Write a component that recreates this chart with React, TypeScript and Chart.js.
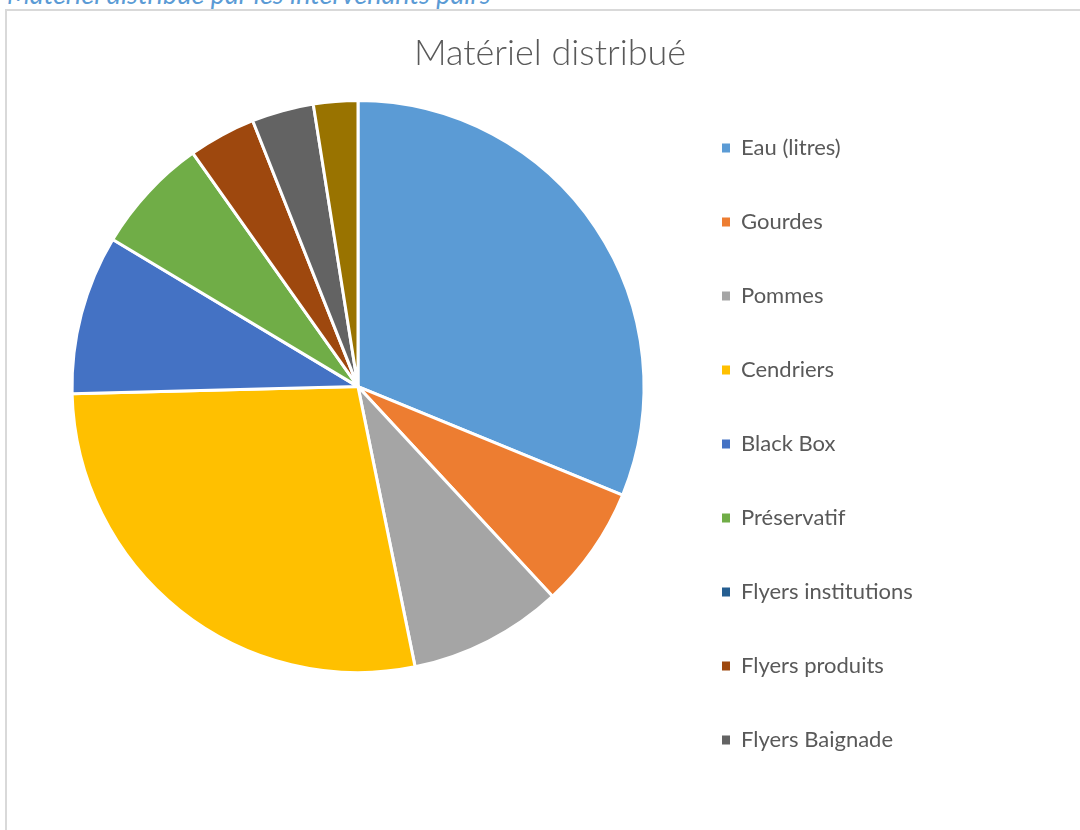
import React, { useEffect, useRef } from 'react';
import { Chart, registerables, layouts } from 'chart.js';

Chart.register(...registerables);

// ---- Data ----
const chartTitle = 'Matériel distribué';
const caption = 'Matériel distribué par les intervenants pairs';
const categories = [
  'Eau (litres)',
  'Gourdes',
  'Pommes',
  'Cendriers',
  'Black Box',
  'Préservatif',
  'Flyers institutions',
  'Flyers produits',
  'Flyers Baignade',
  'Autres',
];
const values = [312, 69, 87, 278, 90, 66, 0, 38, 35, 25];
const sliceColors = [
  '#5B9BD5',
  '#ED7D31',
  '#A5A5A5',
  '#FFC000',
  '#4472C4',
  '#70AD47',
  '#255E91',
  '#9E480E',
  '#636363',
  '#997300',
];
const legendCount = 9; // the legend of the original only shows the first nine entries

// ---- Layout constants ----
const CANVAS_W = 1054;
const CANVAS_H = 888;
const RIGHT_BLOCK = 384; // legend + empty area on the right of the plot
const BOTTOM_SPACE = 190;
const TEXT_COLOR = '#595959';

// invisible layout boxes that reserve empty room, like the Excel plot area
const layoutSpacers = {
  id: 'layoutSpacers',
  beforeInit(chart: any) {
    const make = (position: string, sizeFn: () => number) => ({
      position,
      weight: 3000,
      fullSize: false,
      options: { display: false },
      left: 0,
      top: 0,
      right: 0,
      bottom: 0,
      width: 0,
      height: 0,
      isHorizontal() {
        return position === 'top' || position === 'bottom';
      },
      update(maxWidth: number, maxHeight: number) {
        const s = sizeFn();
        if (this.isHorizontal()) {
          this.width = maxWidth;
          this.height = s;
        } else {
          this.width = s;
          this.height = maxHeight;
        }
      },
      draw() {},
    });
    layouts.addBox(chart, make('right', () => Math.max(0, RIGHT_BLOCK - (chart.legend ? chart.legend.width : 0))) as any);
    layouts.addBox(chart, make('bottom', () => BOTTOM_SPACE) as any);
  },
};

export default function App() {
  const canvasRef = useRef<HTMLCanvasElement | null>(null);

  useEffect(() => {
    if (!canvasRef.current) return;
    const chart = new Chart(canvasRef.current, {
      type: 'pie',
      data: {
        labels: categories,
        datasets: [
          {
            data: values,
            backgroundColor: sliceColors,
            borderColor: '#FFFFFF',
            borderWidth: 3,
            hoverOffset: 0,
            radius: 286,
          } as any,
        ],
      },
      plugins: [layoutSpacers as any],
      options: {
        responsive: false,
        animation: false,
        events: [],
        layout: { padding: { left: 46, right: 0, top: 0, bottom: 0 } },
        plugins: {
          title: {
            display: true,
            text: chartTitle,
            color: TEXT_COLOR,
            font: { family: 'Lato', size: 36, weight: '300' as any },
            padding: { top: 32, bottom: 0 },
          },
          legend: {
            display: true,
            position: 'right',
            fullSize: true,
            align: 'center',
            labels: {
              boxWidth: 8,
              boxHeight: 9,
              padding: 52,
              color: TEXT_COLOR,
              font: { family: 'Lato', size: 22 },
              generateLabels: (c: any) =>
                (Chart as any).overrides.doughnut.plugins.legend.labels
                  .generateLabels(c)
                  .map((l: any) => ({ ...l, lineWidth: 0 })),
              filter: (item: any) => item.index < legendCount,
            },
          },
          tooltip: { enabled: false },
        },
      },
    });
    return () => chart.destroy();
  }, []);

  return (
    <div
      style={{
        position: 'fixed',
        left: 0,
        top: 0,
        width: 1080,
        height: 830,
        overflow: 'hidden',
        background: '#FFFFFF',
      }}
    >
      <div
        style={{
          position: 'absolute',
          left: 7,
          top: -21,
          fontFamily: 'Lato',
          fontStyle: 'italic',
          fontSize: 27,
          lineHeight: '30px',
          color: '#5B9BD5',
          whiteSpace: 'nowrap',
        }}
      >
        {caption}
      </div>
      <div
        style={{
          position: 'absolute',
          left: 5,
          top: 9,
          width: 2000,
          height: 2000,
          borderTop: '2px solid #D9D9D9',
          borderLeft: '2px solid #D9D9D9',
        }}
      />
      <canvas
        ref={canvasRef}
        width={CANVAS_W}
        height={CANVAS_H}
        style={{ position: 'absolute', left: 0, top: 0, width: CANVAS_W, height: CANVAS_H }}
      />
    </div>
  );
}
